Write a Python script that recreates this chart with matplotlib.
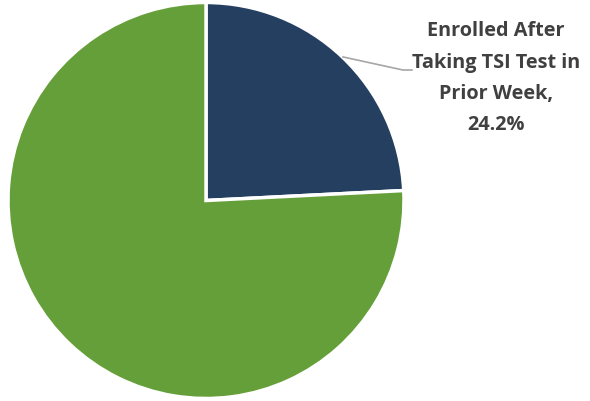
import matplotlib.pyplot as plt

labels = ["Enrolled After\nTaking TSI Test in\nPrior Week,\n24.2%", ""]
shares = [24.2, 75.8]
colors = ["#243F60", "#659F39"]

fig = plt.figure(figsize=(5.9, 4.01), dpi=100)
# pie centre at (206, 200.5) px, radius 198 px
r = 198
ax = fig.add_axes([(206 - r) / 590, (200.5 - r) / 401, 2 * r / 590, 2 * r / 401])
ax.pie(shares, colors=colors, startangle=90, counterclock=False, radius=1,
       wedgeprops=dict(edgecolor="white", linewidth=2.5))
ax.set_xlim(-1, 1)
ax.set_ylim(-1, 1)
ax.set_aspect("equal")
ax.axis("off")

# label with leader line
ax.plot([0.692, 0.995, 1.04], [0.725, 0.659, 0.659], color="#A6A6A6", lw=1.2, clip_on=False)
ax.text(1.465, 0.617, labels[0], ha="center", va="center", fontsize=14.3, fontweight="bold",
        family="Open Sans", color="#404040", linespacing=1.76, clip_on=False)

fig.savefig("out.png", dpi=100)
